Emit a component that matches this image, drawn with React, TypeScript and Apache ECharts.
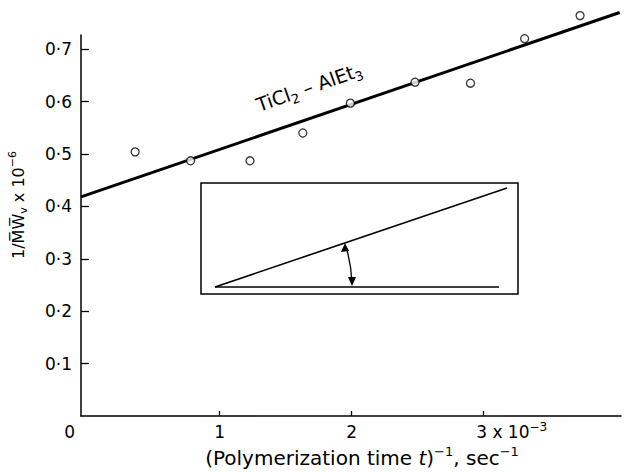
import React, { useEffect, useRef } from "react";
import * as echarts from "echarts";

// Reciprocal polymerization time (x 10^-3 sec^-1)
const invTime = [0.36, 0.78, 1.23, 1.63, 1.99, 2.48, 2.9, 3.31, 3.73];
// 1/Mw (x 10^-6)
const invMw = [0.504, 0.487, 0.487, 0.54, 0.597, 0.637, 0.635, 0.72, 0.764];
// Fitted straight line end points
const fitX = [-0.05, 4.03];
const fitY = [0.418, 0.77];
// Axis ticks
const xTicks = [1, 2, 3];
const xLabels = [0, 1, 2, 3];
const yTicks = [0.1, 0.2, 0.3, 0.4, 0.5, 0.6, 0.7];

const FONT = "DejaVu Sans";

export default function App() {
  const ref = useRef<HTMLDivElement>(null);
  useEffect(() => {
    if (!ref.current) return;
    const chart = echarts.init(ref.current, null, { renderer: "svg" });
    const ox = 215, oy = 287, r = 137;
    chart.setOption({
      animation: false,
      backgroundColor: "#fff",
      grid: { left: 81, right: 5, top: 35, bottom: 56, containLabel: false },
      xAxis: {
        type: "value",
        min: -0.05,
        max: 4.04,
        splitLine: { show: false },
        axisLine: { show: true, onZero: false, lineStyle: { color: "#000", width: 1.5 } },
        axisTick: { show: true, inside: true, length: 5, customValues: xTicks, lineStyle: { color: "#000", width: 1.3 } },
        axisLabel: {
          show: true,
          customValues: xLabels,
          margin: 5,
          color: "#000",
          fontFamily: FONT,
          fontSize: 17,
          formatter: (v: number) => {
            if (v === 0) return "{n|0}{p0| }";
            if (v === 3) return "{p3| }{n|3}{n| x 10}{sup|−3}";
            return "{n|" + v + "}";
          },
          rich: {
            n: { fontFamily: FONT, fontSize: 17, color: "#000", lineHeight: 22, verticalAlign: "middle" },
            p0: { width: 36, fontSize: 17, lineHeight: 22 },
            p3: { width: 56, fontSize: 17, lineHeight: 22 },
            sup: { fontFamily: FONT, fontSize: 12, color: "#000", lineHeight: 12, verticalAlign: "top" },
          },
        },
      },
      yAxis: {
        type: "value",
        min: 0,
        max: 0.727,
        splitLine: { show: false },
        axisLine: { show: true, onZero: false, lineStyle: { color: "#000", width: 1.5 } },
        axisTick: { show: true, inside: true, length: 8, customValues: yTicks, lineStyle: { color: "#000", width: 1.3 } },
        axisLabel: {
          show: true,
          customValues: yTicks,
          margin: 9,
          color: "#000",
          fontFamily: FONT,
          fontSize: 17,
          formatter: (v: number) => v.toFixed(1).replace(".", "·"),
        },
      },
      series: [
        {
          type: "line",
          data: fitX.map((x, i) => [x, fitY[i]]),
          showSymbol: false,
          symbol: "none",
          clip: false,
          lineStyle: { color: "#000", width: 3 },
          z: 2,
        },
        {
          type: "scatter",
          data: invTime.map((x, i) => [x, invMw[i]]),
          symbol: "circle",
          symbolSize: 8,
          clip: false,
          itemStyle: { color: "#fff", borderColor: "#000", borderWidth: 1.3 },
          z: 3,
        },
      ],
      graphic: [
        // inset
        { type: "rect", shape: { x: 201, y: 183, width: 317, height: 111 }, style: { fill: "none", stroke: "#000", lineWidth: 1.5 }, z: 10 },
        { type: "line", shape: { x1: ox, y1: oy, x2: 499, y2: oy }, style: { stroke: "#000", lineWidth: 1.6 }, z: 10 },
        { type: "line", shape: { x1: ox, y1: oy, x2: 507, y2: 188 }, style: { stroke: "#000", lineWidth: 1.6 }, z: 10 },
        { type: "arc", shape: { cx: ox, cy: oy, r: r, startAngle: -0.29, endAngle: -0.03, clockwise: true }, style: { fill: "none", stroke: "#000", lineWidth: 1.3 }, z: 10 },
        { type: "polygon", shape: { points: [[345, 243], [341, 252], [349, 251]] }, style: { fill: "#000" }, z: 10 },
        { type: "polygon", shape: { points: [[352, 286], [348, 277], [356, 277]] }, style: { fill: "#000" }, z: 10 },
        // series label
        {
          type: "text",
          x: 309,
          y: 87,
          rotation: 0.34,
          style: {
            text: "{n|TiCl}{sub|2}{n| – AlEt}{sub|3}",
            align: "center",
            verticalAlign: "middle",
            rich: {
              n: { fontFamily: FONT, fontSize: 19, fill: "#000", lineHeight: 26, verticalAlign: "middle" },
              sub: { fontFamily: FONT, fontSize: 13, fill: "#000", lineHeight: 13, verticalAlign: "bottom" },
            },
          },
          z: 10,
        },
        // x axis title
        {
          type: "text",
          x: 362,
          y: 458,
          style: {
            text: "{n|(Polymerization time }{it|t}{n|)}{sup|−1}{n|, sec}{sup|−1}",
            align: "center",
            verticalAlign: "middle",
            rich: {
              n: { fontFamily: FONT, fontSize: 20, fill: "#000", lineHeight: 26, verticalAlign: "middle" },
              it: { fontFamily: FONT, fontStyle: "italic", fontSize: 20, fill: "#000", lineHeight: 26, verticalAlign: "middle" },
              sup: { fontFamily: FONT, fontSize: 13, fill: "#000", lineHeight: 13, verticalAlign: "top" },
            },
          },
          z: 10,
        },
        // y axis title
        {
          type: "text",
          x: 18,
          y: 205,
          rotation: Math.PI / 2,
          style: {
            text: "{n|1/M\u0305W\u0305}{sub|v}{n| x 10}{sup|−6}",
            align: "center",
            verticalAlign: "middle",
            rich: {
              n: { fontFamily: FONT, fontSize: 16, fill: "#000", lineHeight: 22, verticalAlign: "middle" },
              sub: { fontFamily: FONT, fontSize: 11, fill: "#000", lineHeight: 11, verticalAlign: "bottom" },
              sup: { fontFamily: FONT, fontSize: 11, fill: "#000", lineHeight: 11, verticalAlign: "top" },
            },
          },
          z: 10,
        },
      ],
    });
    return () => chart.dispose();
  }, []);
  return <div ref={ref} style={{ position: "fixed", left: 0, top: 0, width: 626, height: 472 }} />;
}
